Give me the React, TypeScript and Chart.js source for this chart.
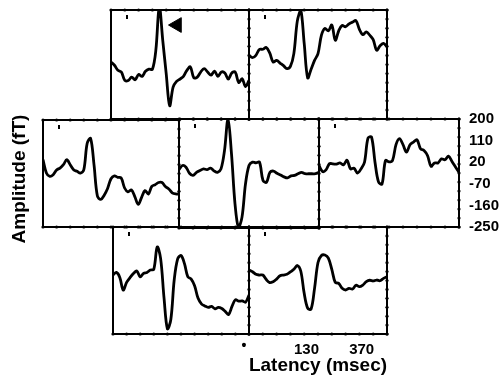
import React, { useEffect, useRef } from "react";
import { Chart, registerables } from "chart.js";

Chart.register(...registerables);

// Latency samples (ms) shared by every panel
const latency = [-120, -105, -90, -75, -60, -45, -30, -15, 0, 15, 30, 45, 60, 75, 90, 105, 120, 135, 150, 165, 180, 195, 210, 225, 240, 255, 270, 285, 300, 315, 330, 345, 360, 375, 390, 405, 420, 435, 450, 465, 480];

// Amplitude (fT) per sensor panel
const topLeft = [-15, -28, -49, -56, -91, -91, -77, -88, -66, -74, -53, -44, -45, 34, 214, 75, -63, -195, -118, -95, -85, -74, -49, -35, -80, -77, -56, -42, -56, -69, -52, -74, -56, -60, -85, -60, -56, -99, -84, -116, -91];
const topRight = [13, 3, 13, 37, 38, 45, 23, -15, -8, -19, -30, -42, -33, 20, 154, 200, 62, -80, -45, -8, 20, 96, 124, 114, 138, 75, 114, 136, 131, 143, 150, 156, 120, 98, 110, 96, 78, 34, 52, 62, 48];
const midLeft = [33, -23, -37, -30, -10, -2, 12, 33, 12, -9, -16, -23, -9, 102, 123, 12, -120, -134, -116, -88, -47, -35, -41, -44, -86, -102, -94, -122, -155, -125, -97, -111, -79, -72, -63, -63, -80, -90, -106, -111, -111];
const midCenter = [-9, 8, 1, -24, -33, -20, -13, -6, -9, -3, -14, -20, -6, 70, 200, 56, -150, -248, -205, -68, 8, 22, 19, 22, -54, -61, -20, -15, -24, -31, -39, -43, -35, -33, -26, -20, -26, -26, -26, -26, -20];
const midRight = [6, -19, -12, 14, 13, 12, 17, 9, 28, -8, -5, -25, -8, 20, 120, 125, 20, -62, -71, 27, 21, 27, 93, 118, 93, 62, 93, 104, 113, 76, 69, 48, 3, 17, 17, 34, 30, 45, 23, 0, -22];
const bottomLeft = [-2, 9, -12, -65, -33, -13, 4, 15, -10, 5, 9, 19, 22, 116, 68, -97, -228, -190, -23, 65, 80, 47, -9, -19, -47, -99, -123, -132, -138, -134, -144, -138, -143, -155, -168, -134, -106, -112, -111, -116, -86];
const bottomRight = [19, 12, 1, -2, -2, -21, -34, -30, -19, -5, -2, 1, 11, 22, 38, 15, -79, -141, -145, -58, 51, 80, 82, 69, 22, -33, -37, -58, -65, -58, -61, -45, -51, -44, -30, -24, -27, -23, -26, -16, -9];

// Axis ticks / labels
const amplitudeTicks = [200, 110, 20, -70, -160, -250];
const latencyTicks = [130, 370];
const xTickMarks = [-120, -60, 0, 60, 120, 180, 240, 300, 360, 420, 480];
const yTickMarks = [-250, -212.5, -175, -137.5, -100, -62.5, -25, 12.5, 50, 87.5, 125, 162.5, 200];
const arrowMarker = { x: 167, y: 138 };

const FONT = '"Liberation Sans", Arial, Helvetica, sans-serif';

const framePlugin = {
  id: "frame",
  afterDraw(chart: any) {
    const { ctx, chartArea } = chart;
    const { left, top, right, bottom } = chartArea;
    const xs = chart.scales.x;
    const ys = chart.scales.y;
    ctx.save();
    ctx.strokeStyle = "#000";
    ctx.fillStyle = "#000";
    ctx.lineWidth = 2;
    ctx.strokeRect(left, top, right - left, bottom - top);
    const dot = (px: number, py: number) => {
      ctx.beginPath();
      ctx.arc(px, py, 1.6, 0, Math.PI * 2);
      ctx.fill();
    };
    xTickMarks.forEach((v) => {
      const px = xs.getPixelForValue(v);
      dot(px, top);
      dot(px, bottom);
    });
    yTickMarks.forEach((v) => {
      dot(right, ys.getPixelForValue(v));
    });
    ctx.fillRect(left + 15, top + 5, 2, 4);
    ctx.restore();
  },
};

type Box = { l: number; t: number; r: number; b: number };

function Panel({ values, box, variant, arrow }: { values: number[]; box: Box; variant?: "right" | "bottom"; arrow?: boolean }) {
  const ref = useRef<HTMLCanvasElement>(null);
  const P = 10;
  const cl = box.l - P;
  const ct = box.t - P;
  let cw = box.r - box.l + 2 * P;
  let ch = box.b - box.t + 2 * P;
  const padding = { left: P, top: P, right: P, bottom: P };
  if (variant === "right") {
    cw = 501 - cl;
    padding.right = 0;
  }
  if (variant === "bottom") {
    ch = 379 - ct;
    padding.bottom = 0;
  }

  useEffect(() => {
    const datasets: any[] = [
      {
        data: latency.map((x, i) => ({ x, y: values[i] })),
        borderColor: "#000",
        borderWidth: 2.8,
        pointRadius: 0,
        tension: 0.35,
        fill: false,
      },
    ];
    if (arrow) {
      datasets.push({
        data: [arrowMarker],
        showLine: false,
        pointStyle: "triangle",
        pointRotation: -90,
        pointRadius: 8.5,
        pointBackgroundColor: "#000",
        pointBorderColor: "#000",
        borderColor: "#000",
      });
    }
    const chart = new Chart(ref.current as HTMLCanvasElement, {
      type: "line",
      data: { datasets },
      options: {
        responsive: false,
        animation: false,
        layout: { padding },
        plugins: { legend: { display: false }, tooltip: { enabled: false } },
        scales: {
          x: {
            type: "linear",
            min: -120,
            max: 480,
            display: variant === "bottom",
            position: "bottom",
            afterBuildTicks: (s: any) => {
              s.ticks = latencyTicks.map((v) => ({ value: v }));
            },
            afterFit: (s: any) => {
              if (variant === "bottom") {
                s.height = 379 - box.b;
                s.paddingLeft = 0;
                s.paddingRight = 0;
              }
            },
            grid: { display: false, drawTicks: false },
            border: { display: false },
            ticks: { padding: 7, color: "#000", autoSkip: false, maxRotation: 0, font: { family: FONT, size: 15, weight: "bold" } },
            title: { display: true, text: "Latency (msec)", color: "#000", padding: { top: 0, bottom: 2 }, font: { family: FONT, size: 19, weight: "bold" } },
          },
          y: {
            type: "linear",
            min: -250,
            max: 200,
            display: variant === "right",
            position: "right",
            afterBuildTicks: (s: any) => {
              s.ticks = amplitudeTicks.map((v) => ({ value: v }));
            },
            afterFit: (s: any) => {
              if (variant === "right") {
                s.width = 501 - box.r;
                s.paddingTop = 0;
                s.paddingBottom = 0;
              }
            },
            grid: { display: false, drawTicks: false },
            border: { display: false },
            ticks: { padding: 10, color: "#000", font: { family: FONT, size: 15, weight: "bold" } },
          },
        },
      } as any,
      plugins: [framePlugin],
    });
    return () => chart.destroy();
  }, []);

  return <canvas ref={ref} width={cw} height={ch} style={{ position: "absolute", left: cl, top: ct }} />;
}

export default function App() {
  return (
    <div style={{ position: "absolute", left: 0, top: 0, width: 501, height: 379, background: "#fff", overflow: "hidden" }}>
      <Panel values={topLeft} box={{ l: 111, t: 10, r: 249, b: 119 }} arrow />
      <Panel values={topRight} box={{ l: 249, t: 10, r: 387, b: 119 }} />
      <Panel values={midLeft} box={{ l: 43, t: 120, r: 179, b: 227 }} />
      <Panel values={midCenter} box={{ l: 179, t: 119, r: 319, b: 228 }} />
      <Panel values={midRight} box={{ l: 319, t: 119, r: 459, b: 227 }} variant="right" />
      <Panel values={bottomLeft} box={{ l: 113, t: 227, r: 249, b: 334 }} />
      <Panel values={bottomRight} box={{ l: 249, t: 227, r: 387, b: 334 }} variant="bottom" />
      <div
        style={{
          position: "absolute",
          left: 19,
          top: 179,
          transform: "translate(-50%, -50%) rotate(-90deg)",
          whiteSpace: "nowrap",
          font: `bold 19px ${FONT}`,
          color: "#000",
        }}
      >
        Amplitude (fT)
      </div>
      <div
        style={{
          position: "absolute",
          left: 244,
          top: 345,
          transform: "translate(-50%, -50%)",
          font: `bold 14px ${FONT}`,
          color: "#000",
          lineHeight: 1,
        }}
      >
        •
      </div>
    </div>
  );
}
